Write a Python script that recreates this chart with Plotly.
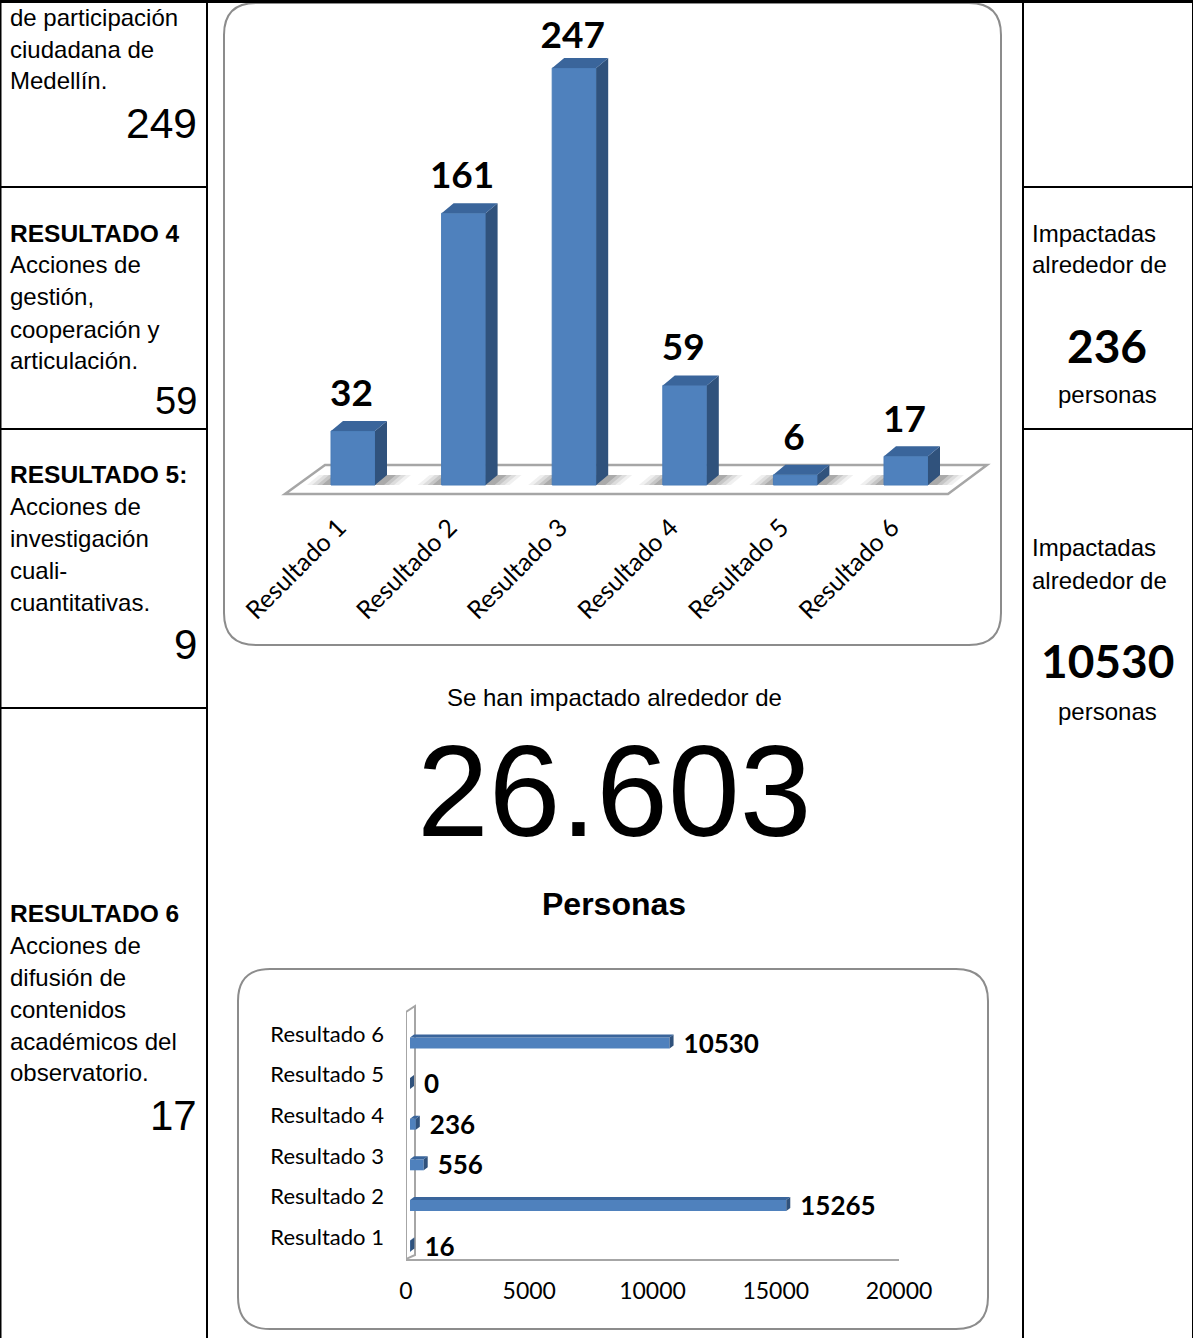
import plotly.graph_objects as go

W, H = 1193, 1338
categories = ["Resultado 1", "Resultado 2", "Resultado 3", "Resultado 4", "Resultado 5", "Resultado 6"]
acciones = [32, 161, 247, 59, 6, 17]
personas = [16, 15265, 556, 236, 0, 10530]
x_ticks = [0, 5000, 10000, 15000, 20000]

left_cells = [
    ("de participación", 17, False), ("ciudadana de", 49, False), ("Medellín.", 80, False),
    ("RESULTADO 4", 233, True), ("Acciones de", 265, False), ("gestión,", 297, False),
    ("cooperación y", 329, False), ("articulación.", 360, False),
    ("RESULTADO 5:", 474, True), ("Acciones de", 506, False), ("investigación", 538, False),
    ("cuali-", 570, False), ("cuantitativas.", 602, False),
    ("RESULTADO 6", 913, True), ("Acciones de", 945, False), ("difusión de", 977, False),
    ("contenidos", 1009, False), ("académicos del", 1041, False), ("observatorio.", 1072, False),
]
left_totals = [("249", 124, 42.5), ("59", 401, 38), ("9", 645, 42), ("17", 1115, 42)]

BODY = "Liberation Sans"
CAL = "Lato"
BLUE, TOPC, SIDE = "#4F81BD", "#3A659B", "#30527C"
GRID = "#A6A6A6"
PANEL = "#8C8C8C"

fx = lambda p: p / W
fy = lambda p: 1 - p / H


def text(s, x, y, size, bold=False, anchor="left", font=BODY):
    return dict(text=f"<b>{s}</b>" if bold else s, x=fx(x), y=fy(y), xref="paper", yref="paper",
                showarrow=False, xanchor=anchor, yanchor="middle",
                font=dict(family=font, size=size, color="#000000"), borderpad=0, borderwidth=0)


def rounded(x0, y0, x1, y1, r):
    X, Y = fx, fy
    path = (f"M {X(x0+r)} {Y(y0)} L {X(x1-r)} {Y(y0)} Q {X(x1)} {Y(y0)} {X(x1)} {Y(y0+r)} "
            f"L {X(x1)} {Y(y1-r)} Q {X(x1)} {Y(y1)} {X(x1-r)} {Y(y1)} "
            f"L {X(x0+r)} {Y(y1)} Q {X(x0)} {Y(y1)} {X(x0)} {Y(y1-r)} "
            f"L {X(x0)} {Y(y0+r)} Q {X(x0)} {Y(y0)} {X(x0+r)} {Y(y0)} Z")
    return dict(type="path", path=path, xref="paper", yref="paper",
                line=dict(color=PANEL, width=2), fillcolor="rgba(0,0,0,0)", layer="below")


def hline(y, x0, x1, w=2):
    return dict(type="line", x0=fx(x0), x1=fx(x1), y0=fy(y), y1=fy(y), xref="paper", yref="paper",
                line=dict(color="#000000", width=w), layer="below")


def vline(x, y0, y1, w=2):
    return dict(type="line", x0=fx(x), x1=fx(x), y0=fy(y0), y1=fy(y1), xref="paper", yref="paper",
                line=dict(color="#000000", width=w), layer="below")


def poly(polys, xa, ya, fill):
    xs, ys = [], []
    for p in polys:
        xs += [q[0] for q in p] + [p[0][0], None]
        ys += [q[1] for q in p] + [p[0][1], None]
    return go.Scatter(x=xs, y=ys, xaxis=xa, yaxis=ya, mode="lines", fill="toself", fillcolor=fill,
                      line=dict(color="rgba(0,0,0,0)", width=0), hoverinfo="skip", showlegend=False)


def poly_shape(p, xa, ya, fill, line=None, lw=0):
    path = "M " + " L ".join(f"{a} {b}" for a, b in p) + " Z"
    return dict(type="path", path=path, xref=xa, yref=ya, fillcolor=fill, layer="below",
                line=dict(color=line or "rgba(0,0,0,0)", width=lw))


fig = go.Figure()
under = []

# ---------- column chart ----------
SX, SY = 110.6, 1.688           # pixels per category, pixels per unit
X0, Y0 = 353.0, 485.0           # pixel of category 0, of value 0
DX, DY = 12 / SX, 10 / SY       # 3D depth
BW = 44 / SX
idx = list(range(len(categories)))
ux = lambda px: (px - X0) / SX
uy = lambda py: (Y0 - py) / SY

under.append(poly_shape([(ux(285), uy(494)), (ux(948), uy(494)), (ux(987), uy(465)), (ux(325), uy(465))],
                        "x", "y", "#FFFFFF", GRID, 2.5))
for k, a in enumerate([0.06, 0.08, 0.10, 0.14]):
    grow = (24 - 5 * k) / SX
    for i in idx:
        under.append(poly_shape([(i - BW / 2 - grow, 0), (i + BW / 2 + grow, 0),
                                 (i + BW / 2 + DX + grow, DY), (i - BW / 2 + DX - grow, DY)],
                                "x", "y", f"rgba(0,0,0,{a})"))
fig.add_trace(poly([[(i + BW / 2, 0), (i + BW / 2 + DX, DY), (i + BW / 2 + DX, v + DY), (i + BW / 2, v)]
                    for i, v in zip(idx, acciones)], "x", "y", SIDE))
fig.add_trace(poly([[(i - BW / 2, v), (i + BW / 2, v), (i + BW / 2 + DX, v + DY), (i - BW / 2 + DX, v + DY)]
                    for i, v in zip(idx, acciones)], "x", "y", TOPC))
fig.add_trace(go.Bar(x=idx, y=acciones, width=BW, xaxis="x", yaxis="y", showlegend=False,
                     marker=dict(color=BLUE, line=dict(color="#4A7DB8", width=1))))
gaps = [24, 24, 19, 25, 24, 24]
fig.add_trace(go.Scatter(x=[i - 1.5 / SX for i in idx], y=[v + DY + g / SY for v, g in zip(acciones, gaps)],
                         xaxis="x", yaxis="y", mode="text", text=[str(v) for v in acciones],
                         textposition="middle center",
                         textfont=dict(family=CAL, size=37, color="#000000", weight="bold"), showlegend=False))

# ---------- horizontal chart ----------
SX2 = (899 - 406) / 20000
SY2 = 40.6
X2, Y2 = 406.0, 1237.0
ux2 = lambda px: (px - X2) / SX2
uy2 = lambda py: (Y2 - py) / SY2
BASE = 4 / SX2
SHIFT = 9 / SY2
BH = 11 / SY2
DX2, DY2 = 4 / SX2, 3 / SY2
under.append(poly_shape([(ux2(406), uy2(1012)), (ux2(415), uy2(1006)), (ux2(415), uy2(1255)), (ux2(406), uy2(1259))],
                        "x2", "y2", "#FFFFFF", GRID, 2))
ybar = [i - SHIFT for i in idx]
fig.add_trace(poly([[(BASE + v, y - BH / 2), (BASE + v + DX2, y - BH / 2 + DY2), (BASE + v + DX2, y + BH / 2 + DY2),
                     (BASE + v, y + BH / 2)] for y, v in zip(ybar, personas)], "x2", "y2", SIDE))
fig.add_trace(poly([[(BASE, y + BH / 2), (BASE + v, y + BH / 2), (BASE + v + DX2, y + BH / 2 + DY2),
                     (BASE + DX2, y + BH / 2 + DY2)] for y, v in zip(ybar, personas)], "x2", "y2", TOPC))
fig.add_trace(go.Bar(x=personas, y=ybar, base=BASE, width=BH, orientation="h", xaxis="x2", yaxis="y2",
                     showlegend=False, marker=dict(color=BLUE, line=dict(width=0))))
fig.add_trace(go.Scatter(x=[BASE + v + DX2 + 10 / SX2 for v in personas], y=[y - 3 / SY2 for y in ybar],
                         xaxis="x2", yaxis="y2", mode="text", text=[str(v) for v in personas],
                         textposition="middle right", cliponaxis=False,
                         textfont=dict(family=CAL, size=26, color="#000000", weight="bold"), showlegend=False))

ann = [text(s, 10, y, 24.5 if b else 24, bold=b) for s, y, b in left_cells]
ann += [text(s, 197, y, z, anchor="right") for s, y, z in left_totals]
ann += [
    text("Impactadas", 1032, 233, 24), text("alrededor de", 1032, 265, 24),
    text("236", 1107, 345.5, 46, True, "center", CAL), text("personas", 1107, 395, 24, anchor="center"),
    text("Impactadas", 1032, 548, 24), text("alrededor de", 1032, 580, 24),
    text("10530", 1107, 660.5, 46, True, "center", CAL), text("personas", 1107, 711, 24, anchor="center"),
    text("Se han impactado alrededor de", 614, 697, 24, anchor="center"),
    text("26.603", 614, 791, 129, anchor="center"),
    text("Personas", 614, 904, 32, True, "center"),
]

shapes = under + [rounded(224, 3, 1001, 645, 32), rounded(238, 969, 988, 1329, 32),
          vline(207, 0, H), vline(1023, 0, H), vline(0.5, 0, H), vline(1192.5, 0, H, 1), hline(1.5, 0, 1193, 3),
          hline(187, 0, 207), hline(429, 0, 207), hline(708, 0, 207),
          hline(187, 1023, 1193), hline(429, 1023, 1193)]

fig.update_layout(
    width=W, height=H, margin=dict(l=0, r=0, t=0, b=0, pad=0), autosize=False,
    paper_bgcolor="#FFFFFF", plot_bgcolor="rgba(0,0,0,0)", showlegend=False, barmode="overlay",
    annotations=ann, shapes=shapes,
    xaxis=dict(domain=[fx(224), fx(1001)], range=[ux(224), ux(1001)], tickmode="array",
               tickvals=[i - 14 / SX for i in idx],
               ticktext=categories, tickangle=-45, showgrid=False, zeroline=False, showline=False, ticks="",
               automargin=False, ticklabelstandoff=7, tickfont=dict(family=CAL, size=25, color="#000000"), anchor="y"),
    yaxis=dict(domain=[fy(500), fy(8)], range=[uy(500), uy(8)], visible=False, anchor="x", automargin=False),
    xaxis2=dict(domain=[fx(406), fx(899)], range=[0, 20000], tickmode="array", tickvals=x_ticks,
                ticktext=[str(t) for t in x_ticks],
                showgrid=False, zeroline=False, showline=True, linecolor=GRID, linewidth=2, ticks="",
                automargin=False, ticklabelstandoff=10, tickfont=dict(family=CAL, size=23, color="#000000"), anchor="y2"),
    yaxis2=dict(domain=[fy(1259), fy(1000)], range=[uy2(1259), uy2(1000)], tickmode="array", tickvals=idx,
                ticktext=categories, showgrid=False, zeroline=False, showline=False, ticks="",
                automargin=False, ticklabelstandoff=21, tickfont=dict(family=CAL, size=22, color="#000000"), anchor="x2"),
)

fig.write_html("out.html", post_script="document.body.style.margin='0';document.documentElement.style.overflow='hidden';",
               config={"displayModeBar": False})
